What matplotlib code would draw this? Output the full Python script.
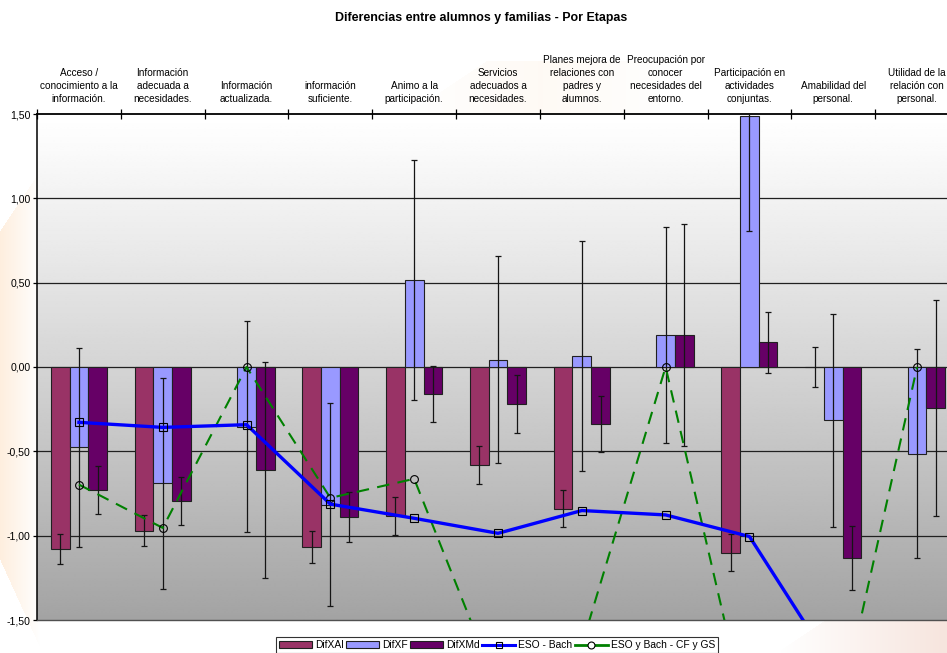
import numpy as np
import matplotlib
matplotlib.use("Agg")
import matplotlib.pyplot as plt
from matplotlib.ticker import FixedLocator, FuncFormatter
from matplotlib.patches import Rectangle
from matplotlib.lines import Line2D

nan = np.nan

categories = [
    "Acceso /\nconocimiento a la\ninformación.",
    "Información\nadecuada a\nnecesidades.",
    "Información\nactualizada.",
    "información\nsuficiente.",
    "Animo a la\nparticipación.",
    "Servicios\nadecuados a\nnecesidades.",
    "Planes mejora de\nrelaciones con\npadres y\nalumnos.",
    "Preocupación por\nconocer\nnecesidades del\nentorno.",
    "Participación en\nactividades\nconjuntas.",
    "Amabilidad del\npersonal.",
    "Utilidad de la\nrelación con\npersonal.",
]

dif_xal = [-1.08, -0.97, nan, -1.07, -0.885, -0.58, -0.84, nan, -1.10, 0.0, nan]
dif_xal_err = [0.09, 0.092, nan, 0.095, 0.113, 0.113, 0.109, nan, 0.11, 0.12, nan]
dif_xf = [-0.475, -0.69, -0.353, -0.816, 0.517, 0.043, 0.066, 0.19, 1.489, -0.317, -0.515]
dif_xf_err = [0.59, 0.627, 0.624, 0.60, 0.71, 0.613, 0.68, 0.64, 0.68, 0.634, 0.62]
dif_xmd = [-0.728, -0.794, -0.61, -0.889, -0.16, -0.22, -0.336, 0.19, 0.147, -1.132, -0.242]
dif_xmd_err = [0.143, 0.142, 0.64, 0.146, 0.168, 0.17, 0.165, 0.66, 0.18, 0.19, 0.64]
eso_bach = [-0.328, -0.358, -0.342, -0.813, -0.897, -0.986, -0.851, -0.877, -1.005, -1.78, -1.9]
eso_bach_cf_gs = [-0.697, -0.954, 0.0, -0.776, -0.663, -1.91, -1.65, 0.0, -2.14, -2.22, 0.0]

series_names = ["DifXAl", "DifXF", "DifXMd", "ESO - Bach", "ESO y Bach - CF y GS"]
bar_colors = ["#993366", "#9999FF", "#660066"]

W, H = 947, 653
plt.rcParams["font.family"] = ["Liberation Sans", "DejaVu Sans"]
fig = plt.figure(figsize=(W / 100, H / 100), dpi=100)

# decorative background swoosh behind the chart
bg = fig.add_axes([0, 0, 1, 1], zorder=-5)
bg.set_xlim(0, W)
bg.set_ylim(H, 0)
bg.axis("off")
yy, xx = np.mgrid[0:H, 0:W]
img = np.ones((H, W, 3))
peach = np.array([0.99, 0.80, 0.60])
# left wedge
left_mask = (yy > 230 - (xx / 37.0) * 55) & (yy < 560 + xx * 2.2)
left_w = np.clip(1 - xx / 40.0, 0, 1) * 0.32
w = np.where(left_mask, left_w, 0)[..., None]
img = img * (1 - w) + peach * w
# top faint band
top_mask = (xx < 660) & (yy > 60) & (yy < 118) & (xx - 400 > (118 - yy) * 1.5)
top_w = np.where(top_mask, 0.10 * np.clip(1 - np.abs(xx - 540) / 140, 0, 1), 0)[..., None]
img = img * (1 - top_w) + peach * top_w
# bottom-right band
pink = np.array([0.93, 0.78, 0.72])
br_mask = (yy > 620) & (xx > 775 + (653 - yy) * 1.5)
br_w = np.where(br_mask, np.clip((xx - 780) / 160.0, 0, 1) * 0.45, 0)[..., None]
img = img * (1 - br_w) + pink * br_w
bg.imshow(img, extent=(0, W, H, 0), aspect="auto", interpolation="bilinear")

# plot area in pixel terms
x0, x1, ytop, ybot = 37, 959, 114, 620
ax = fig.add_axes([x0 / W, 1 - ybot / H, (x1 - x0) / W, (ybot - ytop) / H])

n = len(categories)
ax.set_xlim(0, n)
ax.set_ylim(-1.5, 1.5)

# vertical gradient fill of the plot area
t = np.linspace(0, 1, 256)[:, None]
shade = 1 - 0.36 * t ** 1.1
grad = np.repeat(shade, 2, axis=1)
ax.imshow(grad, extent=(0, n, -1.5, 1.5), aspect="auto", cmap="gray",
          vmin=0, vmax=1, zorder=0, interpolation="bilinear")

# horizontal gridlines
for gy in [1.0, 0.5, 0.0, -0.5, -1.0]:
    ax.axhline(gy, color="#202020", lw=0.9, zorder=1)

centers = np.arange(n) + 0.5
bw = 0.223
offsets = [-bw, 0, bw]
bar_data = [(dif_xal, dif_xal_err), (dif_xf, dif_xf_err), (dif_xmd, dif_xmd_err)]
for k, (vals, errs) in enumerate(bar_data):
    xs = centers + offsets[k]
    ax.bar(xs, vals, width=bw, color=bar_colors[k], edgecolor="#202020",
           linewidth=0.8, zorder=2)
    ax.errorbar(xs, vals, yerr=errs, fmt="none", ecolor="#151515",
                elinewidth=0.9, capsize=2.4, capthick=0.9, zorder=3)

ax.plot(centers, eso_bach, color="#0000FF", lw=2.4, marker="s", markersize=5.2,
        markerfacecolor="none", markeredgecolor="#000000", markeredgewidth=0.8,
        zorder=5)
ax.plot(centers, eso_bach_cf_gs, color="#008000", lw=1.5, dashes=(6, 4),
        marker="o", markersize=5.6, markerfacecolor="none",
        markeredgecolor="#000000", markeredgewidth=0.8, zorder=4)

# axes frame
ax.spines["right"].set_visible(False)
ax.spines["top"].set_color("#000000")
ax.spines["top"].set_linewidth(1.3)
ax.spines["left"].set_color("#000000")
ax.spines["left"].set_linewidth(1.1)
ax.spines["bottom"].set_color("#505050")
ax.spines["bottom"].set_linewidth(1.0)

ax.yaxis.set_major_locator(FixedLocator([-1.5, -1.0, -0.5, 0.0, 0.5, 1.0, 1.5]))
ax.yaxis.set_major_formatter(FuncFormatter(lambda v, p: f"{v:.2f}".replace(".", ",")))
ax.tick_params(axis="y", direction="out", length=3, width=0.9, pad=1.5,
               labelsize=7.6, colors="#000000")

ax.xaxis.tick_top()
ax.set_xticks(np.arange(0, n + 1))
ax.set_xticklabels([])
ax.tick_params(axis="x", direction="inout", length=7, width=0.9, top=True,
               bottom=False)

for c, lab in zip(centers, categories):
    ax.annotate(lab, xy=(c, 1.5), xytext=(0, 7.5), textcoords="offset points",
                ha="center", va="bottom", fontsize=7.2, linespacing=1.36,
                color="#000000", annotation_clip=False)

fig.text(481 / W, 1 - 18 / H, "Diferencias entre alumnos y familias - Por Etapas",
         ha="center", va="center", fontsize=8.9, fontweight="bold")

handles = [
    Rectangle((0, 0), 1, 1, facecolor=bar_colors[0], edgecolor="#202020", lw=0.8),
    Rectangle((0, 0), 1, 1, facecolor=bar_colors[1], edgecolor="#202020", lw=0.8),
    Rectangle((0, 0), 1, 1, facecolor=bar_colors[2], edgecolor="#202020", lw=0.8),
    Line2D([], [], color="#0000FF", lw=2.2, marker="s", markersize=5,
           markerfacecolor="none", markeredgecolor="#000000", markeredgewidth=0.8),
    Line2D([], [], color="#008000", lw=2.0, marker="o", markersize=5,
           markerfacecolor="white", markeredgecolor="#000000", markeredgewidth=0.8),
]
leg = fig.legend(handles, series_names, loc="upper center",
                 bbox_to_anchor=(497 / W, 1 - 637 / H), ncol=5, fontsize=7.4,
                 frameon=True, fancybox=False, edgecolor="#000000",
                 handlelength=3.2, handleheight=0.55, handletextpad=0.3,
                 columnspacing=0.25, borderpad=0.3, borderaxespad=0)
leg.get_frame().set_linewidth(0.8)

fig.savefig("out.png", dpi=100)
